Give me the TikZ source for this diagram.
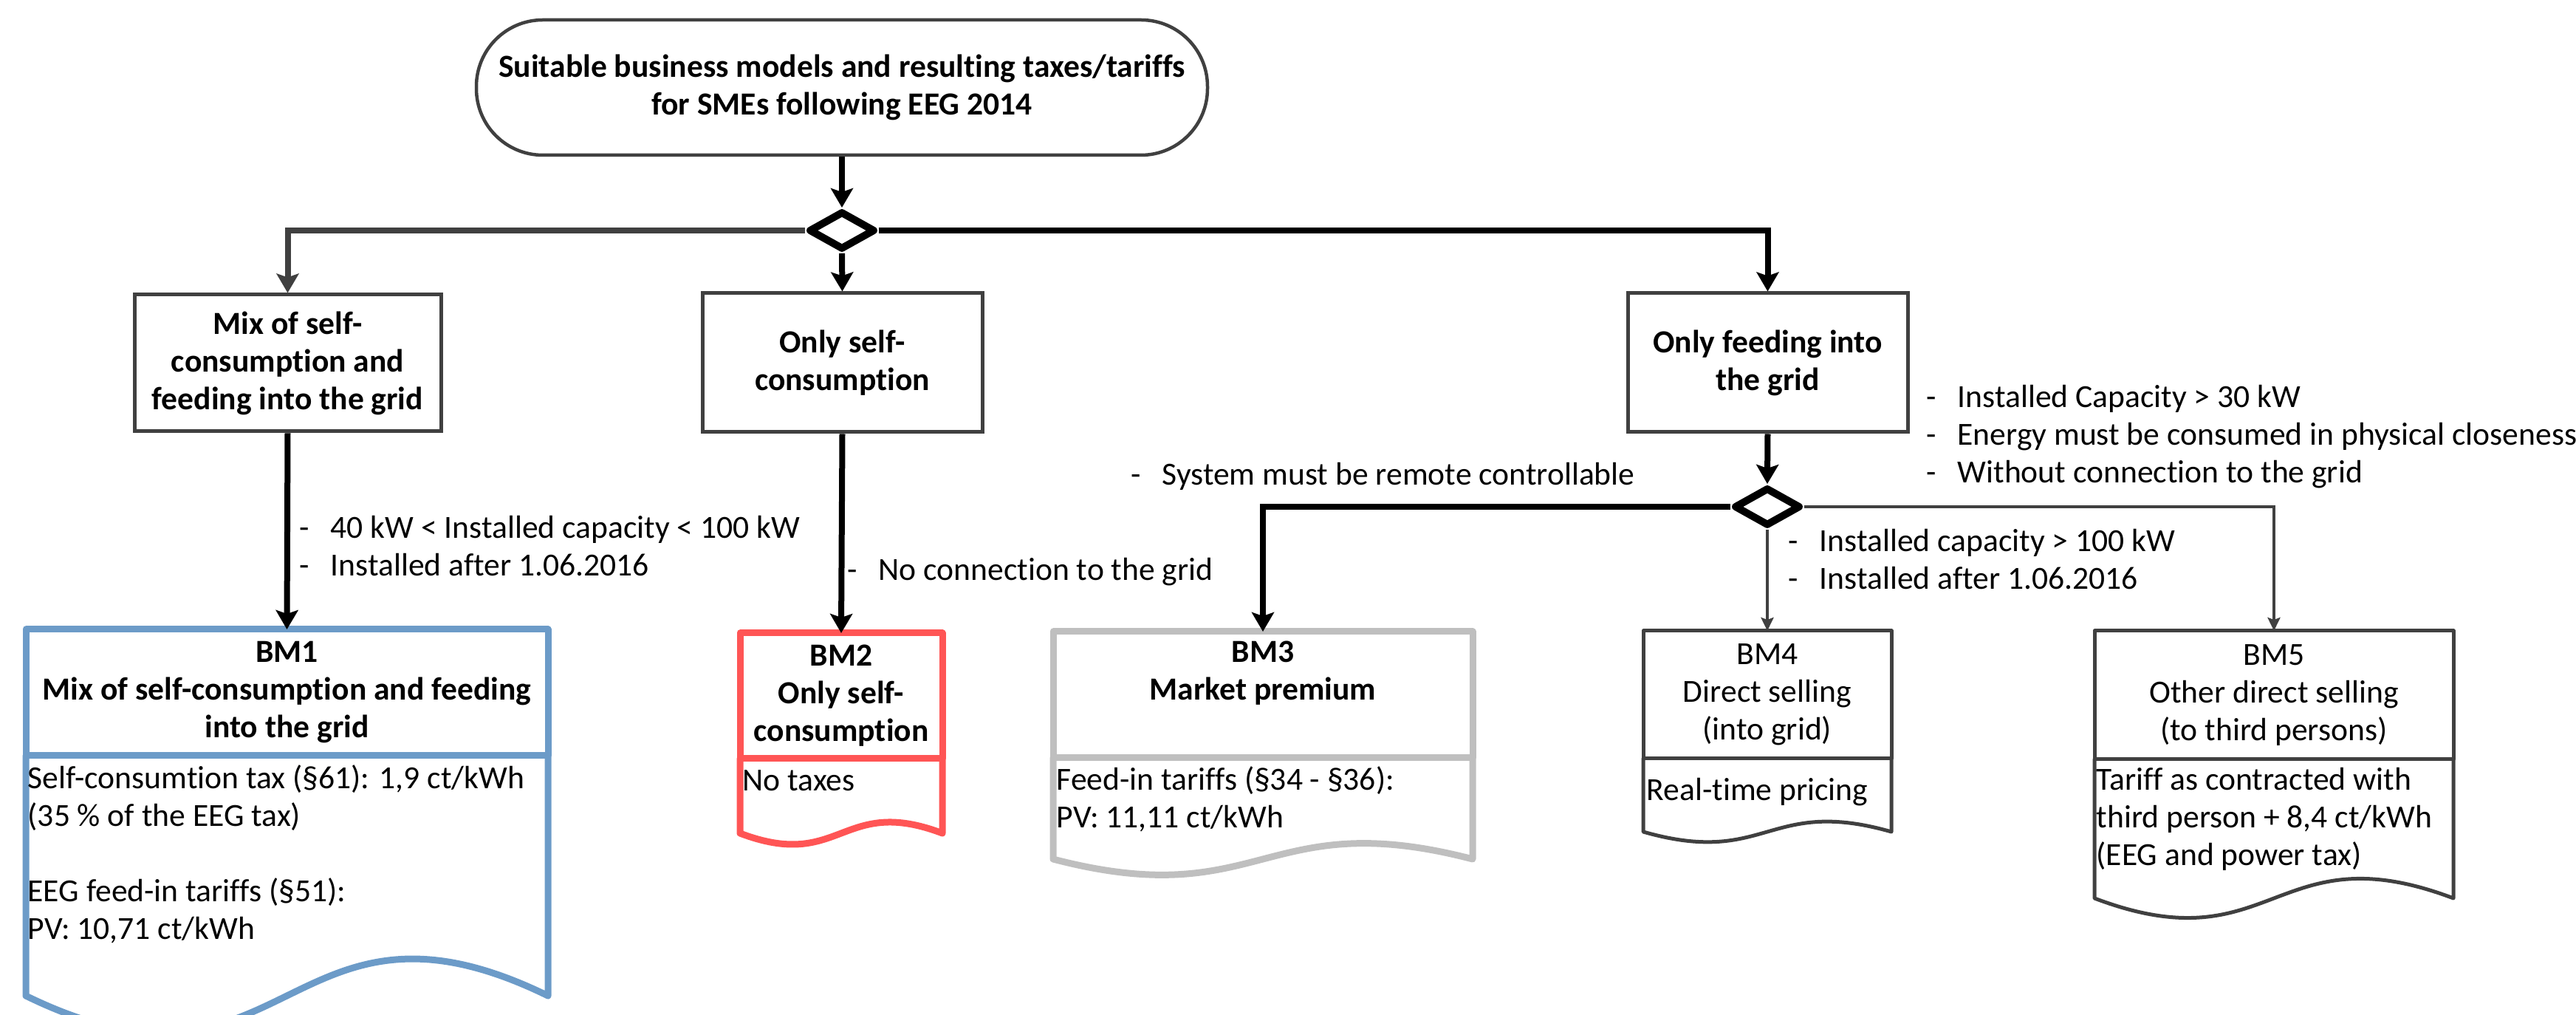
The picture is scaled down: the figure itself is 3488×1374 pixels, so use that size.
\documentclass[tikz,border=0pt]{standalone}
\usepackage{fontspec}
\setmainfont{Carlito}[Ligatures=NoCommon]
\usepackage{tikz}
\usetikzlibrary{shapes.geometric,arrows.meta,positioning}

\definecolor{bmblue}{RGB}{108,155,200}
\definecolor{bmred}{RGB}{255,85,85}
\definecolor{bmgrey}{RGB}{191,191,191}
\definecolor{darkline}{RGB}{64,64,64}

\newcommand{\diagfont}{\fontsize{12.4}{14.5}\selectfont}
\newcommand{\dashitem}[1]{\makebox[4.2mm][l]{-}#1}

\tikzset{
  every node/.style={font=\diagfont},
  startbox/.style={rectangle, draw=darkline, line width=0.45mm, rounded corners=9mm,
    minimum width=99mm, minimum height=18.3mm, align=center, font=\diagfont\bfseries},
  process/.style={rectangle, draw=darkline, line width=0.5mm, align=center,
    font=\diagfont\bfseries},
  decision/.style={diamond, draw, line width=1mm, line join=round,
    minimum width=9mm, minimum height=5.2mm, inner sep=0pt},
  bmhead/.style={rectangle, line width=0.9mm, line join=round, outer sep=0pt, align=center},
  bmbody/.style={line width=0.9mm, line join=round, line cap=round},
  bodytext/.style={anchor=north west, inner sep=0pt, align=left},
  cond/.style={anchor=north west, inner sep=0pt, align=left},
  flow/.style={line width=0.8mm, -{Stealth[length=2.6mm,width=3mm,inset=0.5mm]}},
  thinflow/.style={darkline, line width=0.4mm, -{Stealth[length=1.8mm,width=1.7mm,inset=0.3mm]}}
}

\begin{document}
\begin{tikzpicture}[x=0.1mm, y=-0.1mm]
  \useasboundingbox (0,0) rectangle (3488,1374);

  \node[startbox] (title) at (1140,118.5)
    {Suitable business models and resulting taxes/tariffs\\for SMEs following EEG 2014};
  \node[decision] (dec1) at (1140,312) {};

  \node[process, minimum width=41.5mm, minimum height=18.5mm] (mix) at (389.5,491.5)
    {Mix of self-\\consumption and\\feeding into the grid};
  \node[process, minimum width=37.9mm, minimum height=18.8mm] (self) at (1140.5,491)
    {Only self-\\consumption};
  \node[process, minimum width=37.9mm, minimum height=18.8mm] (feed) at (2393.5,491)
    {Only feeding into\\the grid};
  \node[decision] (dec2) at (2393,686) {};

  \node[bmhead, draw=bmblue, font=\diagfont\bfseries,
    minimum width=70.7mm, minimum height=17.1mm] (bm1h) at (388.5,937.5)
    {BM1\\Mix of self-consumption and feeding\\into the grid};
  \node[bmhead, draw=bmred, font=\diagfont\bfseries,
    minimum width=27.4mm, minimum height=17mm] (bm2h) at (1139,942)
    {BM2\\Only self-\\consumption};
  \node[bmhead, draw=bmgrey, font=\diagfont\bfseries,
    minimum width=56.8mm, minimum height=17.1mm] (bm3h) at (1710,940.5)
    {BM3\\Market premium\\\strut};
  \node[bmhead, draw=darkline, line width=0.5mm,
    minimum width=33.6mm, minimum height=17.3mm] (bm4h) at (2393,940.5)
    {BM4\\Direct selling\\(into grid)};
  \node[bmhead, draw=darkline, line width=0.5mm,
    minimum width=48.6mm, minimum height=17.4mm] (bm5h) at (3079,941)
    {BM5\\Other direct selling\\(to third persons)};

  \draw[bmbody, bmblue] (bm1h.south west) -- (35,1348)
    .. controls (388.5,1521) and (388.5,1175) .. (742,1348) -- (bm1h.south east);
  \draw[bmbody, bmred] (bm2h.south west) -- (1002,1128)
    .. controls (1139,1180) and (1139,1076) .. (1276,1128) -- (bm2h.south east);
  \draw[bmbody, bmgrey] (bm3h.south west) -- (1426,1163)
    .. controls (1710,1237) and (1710,1089) .. (1994,1163) -- (bm3h.south east);
  \draw[bmbody, darkline, line width=0.5mm] (bm4h.south west) -- (2225,1126)
    .. controls (2393,1174) and (2393,1078) .. (2561,1126) -- (bm4h.south east);
  \draw[bmbody, darkline, line width=0.5mm] (bm5h.south west) -- (2836,1216)
    .. controls (3079,1308) and (3079,1124) .. (3322,1216) -- (bm5h.south east);

  \node[bodytext] (bm1t) at (37,1031)
    {\strut Self-consumtion tax (§61): 1,9 ct/kWh\\(35 \% of the EEG tax)\\\strut\\EEG feed-in tariffs (§51):\\PV: 10,71 ct/kWh};
  \node[bodytext] (bm2t) at (1005,1034) {\strut No taxes};
  \node[bodytext] (bm3t) at (1430,1033) {\strut Feed-in tariffs (§34 - §36):\\PV: 11,11 ct/kWh};
  \node[bodytext] (bm4t) at (2229,1047) {\strut Real-time pricing};
  \node[bodytext] (bm5t) at (2838,1033)
    {\strut Tariff as contracted with\\third person + 8,4 ct/kWh\\(EEG and power tax)};

  \node[cond] (c1) at (405,692)
    {\strut\dashitem{40 kW < Installed capacity < 100 kW}\\\dashitem{Installed after 1.06.2016}};
  \node[cond] (c2) at (1147,749) {\strut\dashitem{No connection to the grid}};
  \node[cond] (c3) at (1531,620) {\strut\dashitem{System must be remote controllable}};
  \node[cond] (c4) at (2608,515)
    {\strut\dashitem{Installed Capacity > 30 kW}\\\dashitem{Energy must be consumed in physical closeness}\\\dashitem{Without connection to the grid}};
  \node[cond] (c5) at (2421,710)
    {\strut\dashitem{Installed capacity > 100 kW}\\\dashitem{Installed after 1.06.2016}};

  \draw[flow] (title.south) -- (dec1.north);
  \draw[flow, darkline] (dec1.west) -| (mix.north);
  \draw[flow] (dec1.south) -- (self.north);
  \draw[flow] (dec1.east) -| (feed.north);
  \draw[flow] (mix.south) -- (bm1h.north);
  \draw[flow] (self.south) -- (bm2h.north);
  \draw[flow] (feed.south) -- (dec2.north);
  \draw[flow] (dec2.west) -| (bm3h.north);
  \draw[thinflow] (dec2.south) -- (bm4h.north);
  \draw[thinflow] (dec2.east) -| (bm5h.north);
\end{tikzpicture}
\end{document}
